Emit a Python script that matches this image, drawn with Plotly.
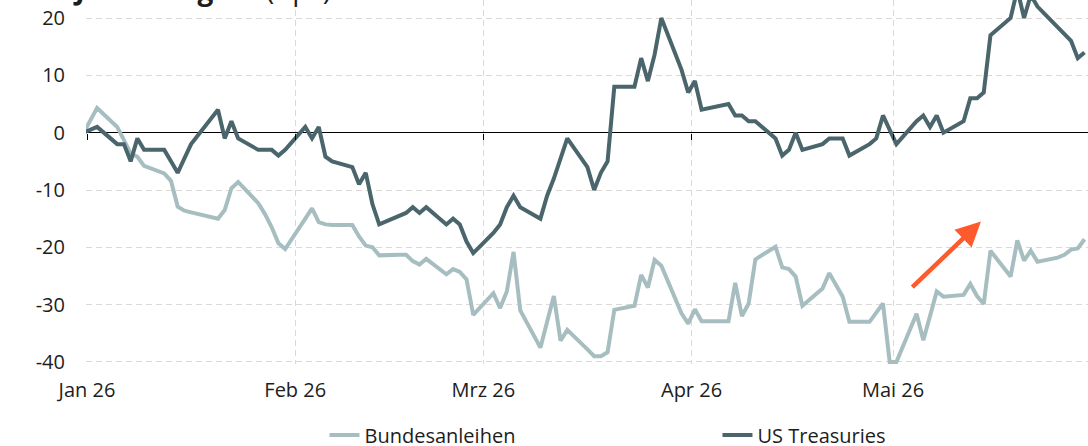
import pandas as pd
import plotly.graph_objects as go

# ---------------- data ----------------
us_holidays = ["2026-01-19", "2026-02-16", "2026-04-03", "2026-05-25"]
us_dates = ["2025-12-31"] + [d.strftime("%Y-%m-%d") for d in
            pd.bdate_range("2026-01-02", "2026-05-29", freq="C", holidays=us_holidays)]
bund_dates = ["2025-12-31"] + [d.strftime("%Y-%m-%d") for d in
              pd.bdate_range("2026-01-02", "2026-05-29")]

us_values = [
    0,
    1, -2, -2, -5, -1, -3, -3, -5, -7, -4.5, -2, 4, -1, 2, -1, -3, -3, -3, -4, -3,          # Jan
    1, -1, 1, -4.2, -5, -6, -9, -7, -12.5, -16, -14, -13, -14, -13, -16, -15, -16, -19, -21,  # Feb
    -17.5, -16, -13, -11, -13, -15, -11, -8, -4.5, -1, -6, -10, -7, -5, 8, 8, 13, 9, 13.6, 20,
    11, 7,                                                                                  # Mar
    9, 4, 5, 3, 3, 2, 2, -1, -4, -3, 0, -3, -2, -1, -1, -1, -4, -2, -1, 3, 0.5,              # Apr
    -2, 2, 3, 1, 3, 0, 2, 6, 6, 7, 17, 20, 25, 20, 24, 22, 17, 16, 13, 14,                   # May
]

bund_values = [
    0,
    4.3, 1.0, -1.2, -3.6, -4.2, -5.8, -7.1, -8.4, -12.9, -13.6, -13.9, -14.7, -15, -13.5, -9.7,
    -8.6, -12.3, -14.2, -16.5, -19.3, -20.3,                                                # Jan
    -15, -13.2, -15.6, -16, -16.1, -16.1, -18.1, -19.7, -20, -21.4, -21.3, -21.3, -22.4, -23,
    -22, -24.7, -23.8, -24.3, -25.6, -31.8,                                                 # Feb
    -28, -30.6, -27.7, -20.8, -31, -37.5, -33, -28.5, -36.3, -34.4, -37.8, -39, -39, -38.3,
    -30.9, -30.2, -24.8, -27, -22.2, -23.2, -31.5, -33.3,                                   # Mar
    -30.8, -32.9, -32.9, -32.9, -26.2, -32, -29.8, -22.1, -19.9, -23.5, -23.8, -25.1, -30.2,
    -27.2, -24.5, -26.5, -28.6, -33, -33, -31.4, -29.8, -40,                                # Apr
    -40, -31.6, -36.2, -32, -27.7, -28.6, -28.3, -26.4, -28.5, -29.9, -20.6, -25.1, -18.8,
    -22.3, -20.6, -22.5, -21.8, -21.3, -20.4, -20.2, -18.6,                                 # May
]

month_ticks = ["2026-01-01", "2026-02-01", "2026-03-01", "2026-04-01", "2026-05-01"]
month_labels = ["Jan 26", "Feb 26", "Mrz 26", "Apr 26", "Mai 26"]
y_ticks = [20, 10, 0, -10, -20, -30, -40]
y_labels = ["20", "10", "0", "-10", "-20", "-30", "-40"]

series_names = ["Bundesanleihen", "US Treasuries"]
series_colors = ["#a7bec1", "#4a656b"]

# ---------------- figure ----------------
FONT = "Open Sans"
TXT = "#1d1d1b"
GRID = "#dcd9d5"

fig = go.Figure()
fig.add_trace(go.Scatter(
    x=bund_dates, y=bund_values, name=series_names[0], mode="lines",
    line=dict(color=series_colors[0], width=4),
    xperiod=86400000, xperiodalignment="middle",
))
fig.add_trace(go.Scatter(
    x=us_dates, y=us_values, name=series_names[1], mode="lines",
    line=dict(color=series_colors[1], width=4),
    xperiod=86400000, xperiodalignment="middle",
))
# helper axis carrying the month ticks on the zero line
fig.add_trace(go.Scatter(x=[], y=[], xaxis="x2", showlegend=False, hoverinfo="skip"))

y_lo, y_hi = -40.35, 23.14
x_range = ["2025-12-31 20:26", "2026-05-30 00:30"]

fig.update_layout(
    width=1088, height=446,
    margin=dict(l=86, r=0, t=0, b=82, autoexpand=False),
    paper_bgcolor="white", plot_bgcolor="white",
    font=dict(family=FONT, size=20, color=TXT),
    showlegend=True,
    legend=dict(
        orientation="h", x=0.238, xanchor="left", y=-0.195, yanchor="middle",
        entrywidth=348, entrywidthmode="pixels",
        font=dict(family=FONT, size=20, color=TXT),
        bgcolor="rgba(0,0,0,0)",
    ),
    xaxis=dict(
        type="date", range=x_range,
        tickmode="array", tickvals=month_ticks, ticktext=month_labels,
        showgrid=True, gridcolor=GRID, gridwidth=1, griddash="6px,4px",
        ticks="", showline=False, zeroline=False,
        ticklabelstandoff=12,
        tickfont=dict(family=FONT, size=20, color=TXT),
    ),
    xaxis2=dict(
        type="date", overlaying="x", matches="x", anchor="free",
        position=(0 - y_lo) / (y_hi - y_lo),
        tickmode="array", tickvals=month_ticks,
        showticklabels=False, showgrid=False, zeroline=False, showline=False,
        ticks="outside", ticklen=6, tickwidth=1, tickcolor="#000000",
    ),
    yaxis=dict(
        range=[y_lo, y_hi],
        tickmode="array", tickvals=y_ticks, ticktext=y_labels,
        showgrid=True, gridcolor=GRID, gridwidth=1, griddash="6px,4px",
        zeroline=True, zerolinecolor="#000000", zerolinewidth=1,
        ticks="", showline=False,
        ticklabelstandoff=20,
        tickfont=dict(family=FONT, size=20, color=TXT),
    ),
)

# cropped title at the very top
fig.add_annotation(
    xref="paper", yref="paper", x=(15 - 86) / 1002, y=1, xanchor="left", yanchor="bottom",
    yshift=-10, showarrow=False,
    text="<b>seit Jahresbeginn</b> (Bps)",
    font=dict(family=FONT, size=28, color=TXT),
)

# orange arrow
fig.add_annotation(
    x="2026-05-14 02:00", y=-15.5, xref="x", yref="y",
    ax="2026-05-03 15:30", ay=-27.2, axref="x", ayref="y",
    showarrow=True, arrowhead=2, arrowsize=1.1, arrowwidth=4.5, arrowcolor="#ff5a2c",
    text="",
)

fig.write_html("out.html", config={"displayModeBar": False},
               post_script="document.body.style.margin='0';")
